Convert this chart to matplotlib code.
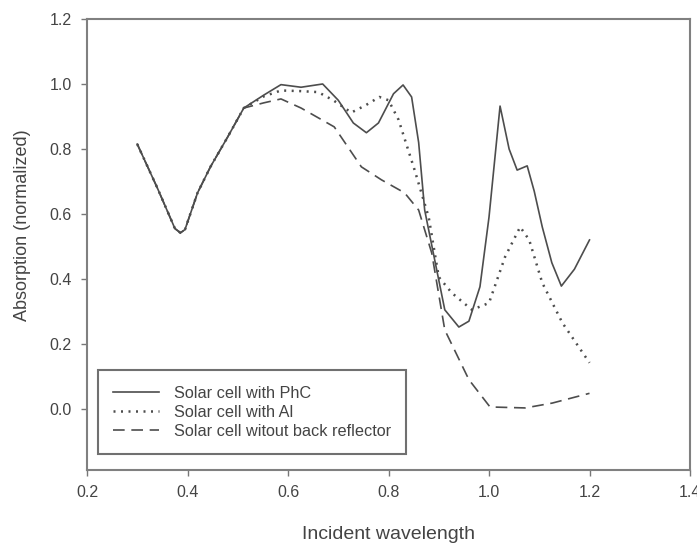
import matplotlib
matplotlib.use("Agg")
from matplotlib import pyplot as plt

plt.rcParams["font.family"] = ["Liberation Sans", "DejaVu Sans"]

# shared start of all three curves
x_common = [0.30, 0.34, 0.375, 0.386, 0.395, 0.42, 0.446, 0.48, 0.512]
y_common = [0.815, 0.68, 0.555, 0.542, 0.552, 0.665, 0.746, 0.837, 0.926]

x_phc = x_common + [0.552, 0.586, 0.626, 0.669, 0.70, 0.73, 0.756, 0.78, 0.81, 0.829,
                    0.846, 0.86, 0.872, 0.892, 0.912, 0.94, 0.96, 0.982, 1.0, 1.022,
                    1.04, 1.056, 1.076, 1.09, 1.106, 1.125, 1.144, 1.17, 1.2]
y_phc = y_common + [0.966, 0.998, 0.99, 1.0, 0.95, 0.88, 0.85, 0.88, 0.97, 0.997,
                    0.96, 0.82, 0.612, 0.458, 0.305, 0.252, 0.27, 0.376, 0.59, 0.932,
                    0.80, 0.735, 0.748, 0.67, 0.56, 0.45, 0.378, 0.43, 0.52]

x_al = x_common + [0.552, 0.586, 0.626, 0.66, 0.69, 0.726, 0.755, 0.782, 0.80, 0.82,
                   0.852, 0.88, 0.90, 0.926, 0.966, 1.0, 1.032, 1.062, 1.08, 1.106,
                   1.146, 1.2]
y_al = y_common + [0.962, 0.98, 0.978, 0.975, 0.95, 0.912, 0.935, 0.96, 0.95, 0.89,
                   0.735, 0.59, 0.406, 0.357, 0.305, 0.326, 0.468, 0.56, 0.52, 0.388,
                   0.265, 0.142]

x_nobr = x_common + [0.552, 0.586, 0.626, 0.692, 0.746, 0.786, 0.832, 0.86, 0.886,
                     0.912, 0.96, 1.002, 1.072, 1.126, 1.2]
y_nobr = y_common + [0.942, 0.954, 0.926, 0.868, 0.745, 0.705, 0.665, 0.612, 0.48,
                     0.243, 0.09, 0.006, 0.003, 0.018, 0.048]

labels = ["Solar cell with PhC", "Solar cell with Al", "Solar cell witout back reflector"]

gray = "#4d4d4d"
txt = "#444444"
fig = plt.figure(figsize=(6.97, 5.45), dpi=100)
ax = fig.add_axes([87 / 697, 75 / 545, 603 / 697, 451 / 545])

ax.plot(x_phc, y_phc, color=gray, lw=1.2, label=labels[0])
ax.plot(x_al, y_al, color=gray, lw=1.8, linestyle=(0, (0.8, 2.2)), label=labels[1])
ax.plot(x_nobr, y_nobr, color=gray, lw=1.2, linestyle=(0, (7, 4)), label=labels[2])

ax.set_xlim(0.2, 1.4)
ax.set_ylim(-0.188, 1.2)
ax.set_xticks([0.2, 0.4, 0.6, 0.8, 1.0, 1.2, 1.4])
ax.set_yticks([0.0, 0.2, 0.4, 0.6, 0.8, 1.0, 1.2])
ax.set_xticklabels(["0.2", "0.4", "0.6", "0.8", "1.0", "1.2", "1.4"])
ax.set_yticklabels(["0.0", "0.2", "0.4", "0.6", "0.8", "1.0", "1.2"])
ax.tick_params(direction="out", length=4, width=1, color="#777777",
               labelsize=11.5, labelcolor=txt, pad=7)
for s in ax.spines.values():
    s.set_color("#808080")
    s.set_linewidth(1.5)

ax.set_xlabel("Incident wavelength", fontsize=14, color=txt)
ax.set_ylabel("Absorption (normalized)", fontsize=13, color=txt)
ax.xaxis.set_label_coords(0.5, -0.125)
ax.yaxis.set_label_coords(-0.093, 0.543)

leg = ax.legend(loc="lower left", bbox_to_anchor=(0.0183, 0.035), borderaxespad=0,
                fontsize=11.7, handlelength=2.8, handletextpad=0.9, labelspacing=0.25,
                borderpad=0.95, fancybox=False, framealpha=1)
leg.get_frame().set_edgecolor("#707070")
leg.get_frame().set_linewidth(1.5)
for t in leg.get_texts():
    t.set_color(txt)

fig.savefig("out.png", dpi=100)
